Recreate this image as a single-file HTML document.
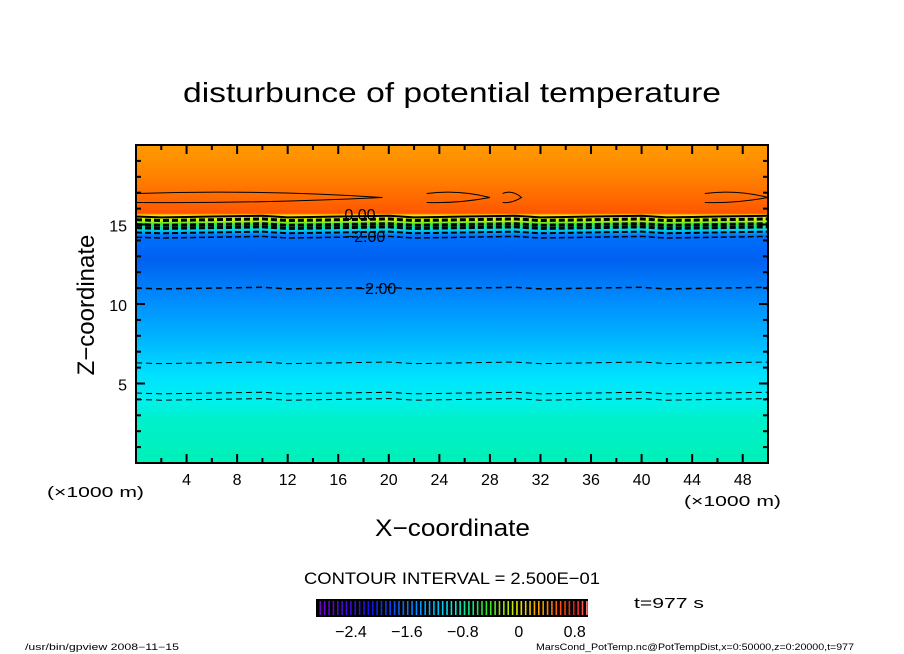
<!DOCTYPE html>
<html><head><meta charset="utf-8"><style>
html,body{margin:0;padding:0;background:#fff;}
svg{display:block;font-family:"Liberation Sans",sans-serif;}
</style></head><body>
<svg id="chart" width="904" height="654" viewBox="0 0 904 654" xmlns="http://www.w3.org/2000/svg">
<defs>
<linearGradient id="field" x1="0" y1="0" x2="0" y2="1" gradientUnits="objectBoundingBox">
<stop offset="0" stop-color="#ff9a00"/>
<stop offset="0.1" stop-color="#ff8200"/>
<stop offset="0.18" stop-color="#ff6400"/>
<stop offset="0.215" stop-color="#ff5500"/>
<stop offset="0.22" stop-color="#ffd800"/>
<stop offset="0.235" stop-color="#c8ff00"/>
<stop offset="0.25" stop-color="#40e040"/>
<stop offset="0.265" stop-color="#00d8e8"/>
<stop offset="0.285" stop-color="#0070ff"/>
<stop offset="0.36" stop-color="#0060f0"/>
<stop offset="0.5" stop-color="#0090ff"/>
<stop offset="0.62" stop-color="#00b8ff"/>
<stop offset="0.72" stop-color="#00e0ff"/>
<stop offset="0.8" stop-color="#00f0f0"/>
<stop offset="0.86" stop-color="#00f0cc"/>
<stop offset="1" stop-color="#00f0b8"/>
</linearGradient>
</defs>
<text x="183" y="102" font-size="28" textLength="538" lengthAdjust="spacingAndGlyphs">disturbunce of potential temperature</text>
<rect x="136" y="145" width="632" height="318" fill="url(#field)"/>
<g id="contours"></g>
<g id="axes"></g>
<text x="375" y="536" font-size="24" textLength="155" lengthAdjust="spacingAndGlyphs">X−coordinate</text>
<text x="94" y="305" font-size="24" text-anchor="middle" transform="rotate(-90 94 305)">Z−coordinate</text>
<text x="47" y="497" font-size="15" textLength="97" lengthAdjust="spacingAndGlyphs">(×1000 m)</text>
<text x="684" y="506" font-size="15" textLength="97" lengthAdjust="spacingAndGlyphs">(×1000 m)</text>
<text x="304" y="584" font-size="17" textLength="296" lengthAdjust="spacingAndGlyphs">CONTOUR INTERVAL = 2.500E−01</text>
<g id="colorbar"></g>
<text x="634" y="608" font-size="15" textLength="70" lengthAdjust="spacingAndGlyphs">t=977 s</text>
<text x="25" y="650" font-size="9" textLength="154" lengthAdjust="spacingAndGlyphs">/usr/bin/gpview   2008−11−15</text>
<text x="536" y="650" font-size="9" textLength="318" lengthAdjust="spacingAndGlyphs">MarsCond_PotTemp.nc@PotTempDist,x=0:50000,z=0:20000,t=977</text>
<rect x="136" y="145" width="632" height="318" fill="none" stroke="#000" stroke-width="2"/>
</svg>
<script>
const xTicks=[4,8,12,16,20,24,28,32,36,40,44,48];
const zTicks=[5,10,15];
const cbTicks=[-2.4,-1.6,-0.8,0,0.8];
const cbLabels=["−2.4","−1.6","−0.8","0","0.8"];
// contour lines: height (km), dashed flag, width
const contourZ=[16.7,15.5,15.3,15.0,14.8,14.5,14.2,11.0,6.3,4.4,4.0];
const contourDash=[0,0,1,1,1,1,1,1,1,1,1];
const contourWidth=[1,2,3,3,3,2,1.5,1.5,1,1,1];
const NS="http://www.w3.org/2000/svg";
const X0=136,X1=768,Y0=463,Y1=145;
const xs=v=>X0+(v/50)*(X1-X0);
const zs=v=>Y0-(v/20)*(Y0-Y1);
function mk(t,a,p){const e=document.createElementNS(NS,t);for(const k in a)e.setAttribute(k,a[k]);p.appendChild(e);return e;}
const ax=document.getElementById('axes');
for(let v=2;v<50;v+=2){const maj=v%4===0;
 const t1=mk('line',{x1:xs(v),x2:xs(v),y1:Y0,y2:Y0-(maj?9:5),stroke:'#000','stroke-width':2},ax);
 
 const t2=mk('line',{x1:xs(v),x2:xs(v),y1:Y1,y2:Y1+(maj?9:5),stroke:'#000','stroke-width':2},ax);
 }
for(let v=1;v<20;v++){const maj=v%5===0;
 const t1=mk('line',{x1:X0,x2:X0+(maj?9:5),y1:zs(v),y2:zs(v),stroke:'#000','stroke-width':2},ax);
 
 const t2=mk('line',{x1:X1,x2:X1-(maj?9:5),y1:zs(v),y2:zs(v),stroke:'#000','stroke-width':2},ax);
 }
xTicks.forEach(v=>{const t=mk('text',{x:xs(v),y:485,'font-size':16,'text-anchor':'middle'},ax);t.textContent=v;
 });
zTicks.forEach(v=>{const t=mk('text',{x:127,y:zs(v)+7,'font-size':16,'text-anchor':'end'},ax);t.textContent=v;
 });
const cg=document.getElementById('contours');
contourZ.forEach((z,i)=>{
 let d='';
 if(z>16){
  [[0,19.5],[23,28],[29,30.5],[45,50]].forEach(s=>{const a=xs(s[0]),b=xs(s[1]),y=zs(z);
   d+=`M${a} ${y-4} Q${(a+b)/2} ${y-8} ${b} ${y} Q${(a+b)/2} ${y+6} ${a} ${y+5} `;});
 } else { d=`M${X0} ${zs(z)}`; for(let x=2;x<=50;x+=2){d+=` L${xs(x)} ${zs(z)+((x*7)%5-2)*0.4}`;} }
 const p=mk('path',{d:d,fill:'none',stroke:'#000','stroke-width':contourWidth[i]},cg);
 if(contourDash[i])p.setAttribute('stroke-dasharray',z>14?'6 3':'6 4');
 
});
[[360,220,'0.00'],[365,242,'−2.00'],[376,294,'−2.00']].forEach(l=>{
 const t=mk('text',{x:l[0],y:l[1],'font-size':16,'text-anchor':'middle'},cg);t.textContent=l[2];
 });
const cb=document.getElementById('colorbar');
const CB0=316,CB1=588,VMIN=-2.9,VMAX=0.99;
const cbx=v=>CB0+(v-VMIN)/(VMAX-VMIN)*(CB1-CB0);
mk('rect',{x:CB0,y:599,width:CB1-CB0,height:18,fill:'#000'},cb);
function col(f){const st=[[0,[120,0,200]],[0.2,[20,20,230]],[0.38,[0,150,255]],[0.5,[0,230,230]],[0.62,[40,230,40]],[0.74,[230,230,0]],[0.86,[255,120,0]],[0.95,[240,20,20]],[1,[255,150,150]]];
 for(let i=1;i<st.length;i++)if(f<=st[i][0]){const a=st[i-1],b=st[i],t=(f-a[0])/(b[0]-a[0]);return `rgb(${a[1].map((c,j)=>Math.round(c+(b[1][j]-c)*t)).join(',')})`;}return 'rgb(255,150,150)';}
for(let v=-2.85;v<0.97;v+=0.0625){const s=mk('rect',{x:cbx(v),y:601,width:1.6,height:14,fill:col((v-VMIN)/(VMAX-VMIN))},cb);
 }
cbTicks.forEach((v,i)=>{const t=mk('text',{x:cbx(v),y:637,'font-size':16,'text-anchor':'middle'},cb);t.textContent=cbLabels[i];
 });
</script>
</body></html>
